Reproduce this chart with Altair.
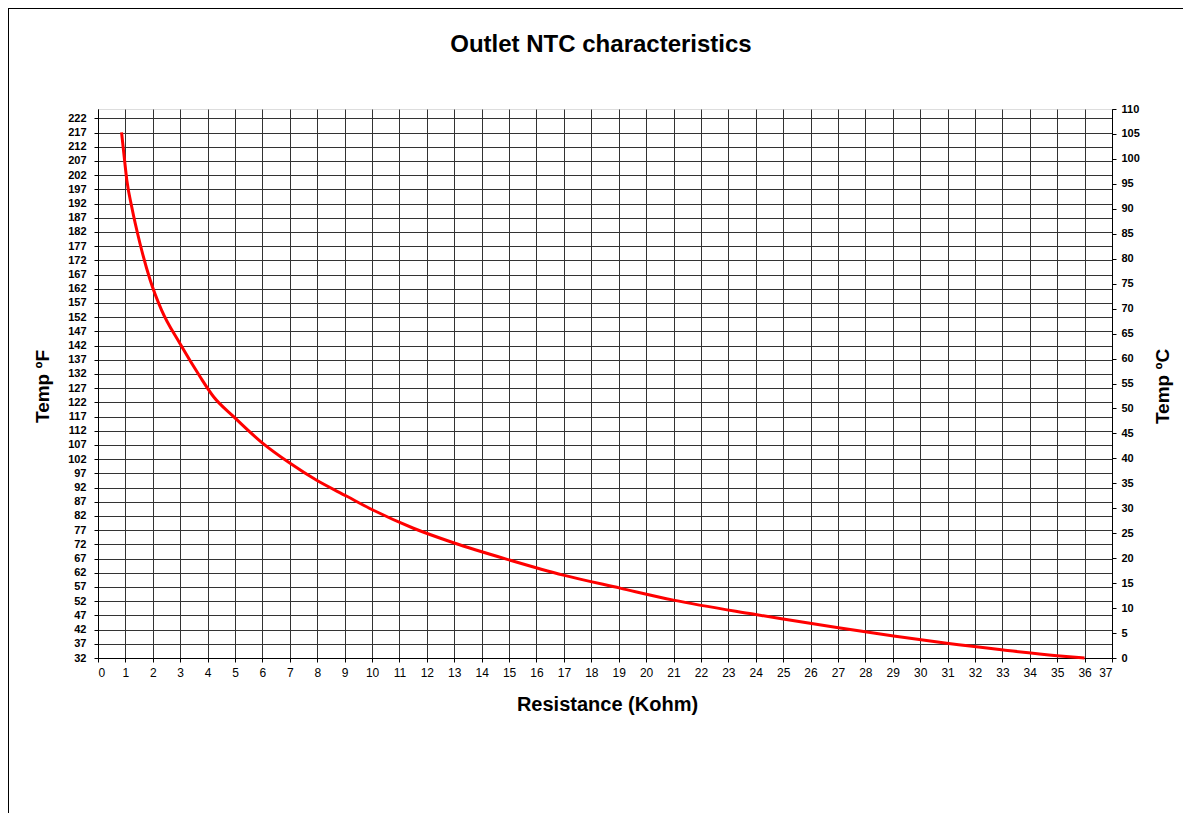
import altair as alt
import pandas as pd

# Curve (resistance in kohm vs temperature on the right-hand °C axis)
resistance_kohm = [0.86, 0.96, 1.05, 1.23, 1.53, 1.90, 2.32, 2.99, 3.72, 4.21, 4.94, 5.97,
                   7.01, 7.98, 9.08, 10.05, 11.51, 12.97, 15.04, 16.98, 19.05, 21.0, 23.9,
                   25.0, 26.96, 29.03, 30.97, 33.04, 34.99, 36.0]
temp_c = [105.3, 100.2, 95.8, 90.4, 83.1, 75.8, 69.7, 63.0, 56.4, 52.4, 48.4, 43.2,
          39.0, 35.6, 32.4, 29.6, 26.0, 23.1, 19.6, 16.6, 14.0, 11.6, 8.8,
          7.8, 6.1, 4.4, 2.94, 1.6, 0.47, 0.0]

x_ticks = [0, 1, 2, 3, 4, 5, 6, 7, 8, 9, 10, 11, 12, 13, 14, 15, 16, 17, 18, 19, 20,
           21, 22, 23, 24, 25, 26, 27, 28, 29, 30, 31, 32, 33, 34, 35, 36, 37]
f_ticks = [32, 37, 42, 47, 52, 57, 62, 67, 72, 77, 82, 87, 92, 97, 102, 107, 112, 117,
           122, 127, 132, 137, 142, 147, 152, 157, 162, 167, 172, 177, 182, 187, 192,
           197, 202, 207, 212, 217, 222]
c_ticks = [0, 5, 10, 15, 20, 25, 30, 35, 40, 45, 50, 55, 60, 65, 70, 75, 80, 85, 90,
           95, 100, 105, 110]

chart_title = "Outlet NTC characteristics"

curve = pd.DataFrame({"R": resistance_kohm, "T": temp_c})
fdf = pd.DataFrame({"F": f_ticks})
one = pd.DataFrame({"label": [chart_title]})

FONT = "Liberation Sans"
GRID = "#333333"

x_enc = alt.X(
    "R:Q",
    scale=alt.Scale(domain=[0, 37], nice=False, zero=False),
    axis=alt.Axis(
        values=x_ticks, grid=True, gridColor=GRID, gridWidth=1,
        domainColor="black", tickColor="black", tickSize=4,
        labelFont=FONT, labelFontSize=12, labelColor="black", labelPadding=5,
        labelOverlap=False,
        title="Resistance (Kohm)", titleFont=FONT, titleFontSize=20,
        titleFontWeight="bold", titleColor="black",
        titleX=509, titleY=46, titleBaseline="middle", titleAlign="center",
    ),
)

left = alt.Chart(fdf).mark_point(opacity=0).encode(
    y=alt.Y(
        "F:Q",
        scale=alt.Scale(domain=[32, 225.3], nice=False, zero=False),
        axis=alt.Axis(
            orient="left", values=f_ticks, grid=True, gridColor=GRID, gridWidth=1,
            domainColor="black", tickColor="black", tickSize=4,
            labelFont=FONT, labelFontSize=11, labelFontWeight="bold",
            labelColor="black", labelPadding=8, labelOverlap=False,
            title="Temp ºF", titleFont=FONT, titleFontSize=19, titleFontWeight="bold",
            titleColor="black", titleAngle=270, titleX=-56, titleY=277,
            titleBaseline="middle", titleAlign="center",
        ),
    ),
)

line = alt.Chart(curve).mark_line(
    color="#FF0000", strokeWidth=3, interpolate="monotone"
).encode(
    x=x_enc,
    y=alt.Y(
        "T:Q",
        scale=alt.Scale(domain=[0, 110], nice=False, zero=False),
        axis=alt.Axis(
            orient="right", values=c_ticks, grid=False,
            domainColor="black", tickColor="black", tickSize=4,
            labelFont=FONT, labelFontSize=11, labelFontWeight="bold",
            labelColor="black", labelPadding=5, labelOverlap=False,
            title="Temp ºC", titleFont=FONT, titleFontSize=19, titleFontWeight="bold",
            titleColor="black", titleAngle=270, titleX=50, titleY=277,
            titleBaseline="middle", titleAlign="center",
        ),
    ),
    order=alt.Order("R:Q"),
)

title_mark = alt.Chart(one).mark_text(
    font=FONT, fontSize=24, fontWeight="bold", color="black",
    align="center", baseline="alphabetic",
).encode(text="label:N", x=alt.value(503), y=alt.value(-57))

frame_top = alt.Chart(one).mark_rule(color="black", strokeWidth=2).encode(
    x=alt.value(-90), x2=alt.value(1200), y=alt.value(-101)
)
frame_left = alt.Chart(one).mark_rule(color="black", strokeWidth=2).encode(
    x=alt.value(-90), y=alt.value(-101), y2=alt.value(800)
)

chart = (
    alt.layer(left, line, title_mark, frame_top, frame_left)
    .resolve_scale(y="independent")
    .properties(
        width=1014,
        height=549,
        autosize=alt.AutoSizeParams(type="none"),
        padding={"left": 90, "top": 101, "right": 71, "bottom": 155},
    )
    .configure_view(stroke="#808080", strokeWidth=1)
    .configure(background="white")
)

chart.save("out.html", embed_options={"renderer": "svg", "actions": False})
